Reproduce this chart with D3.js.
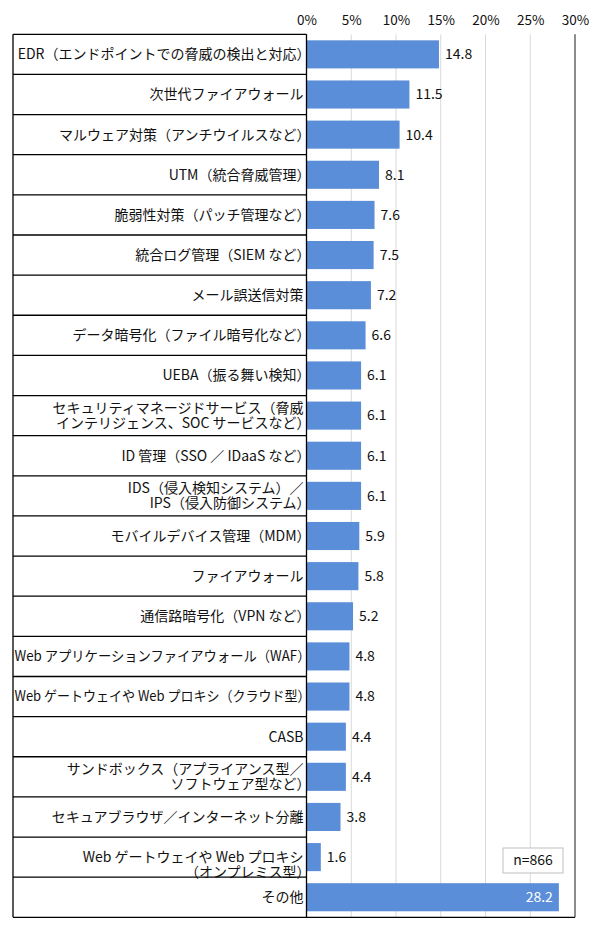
<!DOCTYPE html>
<html><head><meta charset="utf-8">
<script src="https://cdn.jsdelivr.net/npm/d3@7/dist/d3.min.js"></script>
<style>
html,body{margin:0;padding:0;background:#fff;}
svg{display:block;font-family:"Noto Sans CJK JP","Noto Sans",sans-serif;}
</style></head>
<body>
<svg id="chart" width="590" height="934"></svg>
<script>
// ---- data ----
const categories = [
  "EDR（エンドポイントでの脅威の検出と対応）",
  "次世代ファイアウォール",
  "マルウェア対策（アンチウイルスなど）",
  "UTM（統合脅威管理）",
  "脆弱性対策（パッチ管理など）",
  "統合ログ管理（SIEM など）",
  "メール誤送信対策",
  "データ暗号化（ファイル暗号化など）",
  "UEBA（振る舞い検知）",
  "セキュリティマネージドサービス（脅威\nインテリジェンス、SOC サービスなど）",
  "ID 管理（SSO ／ IDaaS など）",
  "IDS（侵入検知システム）／\nIPS（侵入防御システム）",
  "モバイルデバイス管理（MDM）",
  "ファイアウォール",
  "通信路暗号化（VPN など）",
  "Web アプリケーションファイアウォール（WAF）",
  "Web ゲートウェイや Web プロキシ（クラウド型）",
  "CASB",
  "サンドボックス（アプライアンス型／\nソフトウェア型など）",
  "セキュアブラウザ／インターネット分離",
  "Web ゲートウェイや Web プロキシ\n（オンプレミス型）",
  "その他"
];
const values = [14.8, 11.5, 10.4, 8.1, 7.6, 7.5, 7.2, 6.6, 6.1, 6.1, 6.1, 6.1, 5.9, 5.8, 5.2, 4.8, 4.8, 4.4, 4.4, 3.8, 1.6, 28.2];
const tickValues = [0, 5, 10, 15, 20, 25, 30];
const sampleNote = "n=866";

(function () {
// ---- layout ----
const leftX = 13, plotLeft = 306.5, plotRight = 575;
const topY = 34.3, bottomY = 917.3;
const barColor = "#5b8ed9";
const labelRight = plotLeft - 3;
const parenTrail = 7;          // blank right side of a full-width close paren
const maxLabelW = 289;

const svg = d3.select("#chart");
const data = categories.map((c, i) => ({c, v: values[i], i}));

const x = d3.scaleLinear().domain([0, 30]).range([plotLeft, plotRight]);
const y = d3.scaleBand().domain(d3.range(categories.length))
  .range([topY, bottomY]).paddingInner(0.3).paddingOuter(0.15);
const step = y.step();
const rowTop = i => y(i) - step * 0.15;

// gridlines
svg.append("g").selectAll("line").data(tickValues.filter(t => t > 0 && t < 30)).join("line")
  .attr("x1", d => x(d)).attr("x2", d => x(d))
  .attr("y1", topY).attr("y2", bottomY)
  .attr("stroke", "#d9d9d9").attr("stroke-width", 1);

// right border (gray)
svg.append("line").attr("x1", x(30)).attr("x2", x(30)).attr("y1", topY).attr("y2", bottomY)
  .attr("stroke", "#8c8c8c").attr("stroke-width", 2);

// top axis
const axis = d3.axisTop(x).tickValues(tickValues).tickFormat(d => d + "%").tickSize(0).tickPadding(0);
const ag = svg.append("g").attr("transform", "translate(0,25)").call(axis);
ag.select(".domain").remove();
ag.selectAll("text").attr("font-size", 13.5).attr("fill", "#111")
  .style("font-family", '"Noto Sans CJK JP",sans-serif');

// bars
svg.append("g").selectAll("rect").data(data).join("rect")
  .attr("x", x(0)).attr("y", d => y(d.i))
  .attr("width", d => x(d.v) - x(0)).attr("height", y.bandwidth())
  .attr("fill", barColor);

// value labels
const lastIdx = categories.length - 1;
svg.append("g").selectAll("text").data(data).join("text")
  .attr("x", d => d.i === lastIdx ? x(d.v) - 6 : x(d.v) + 6)
  .attr("y", d => y(d.i) + y.bandwidth() / 2)
  .attr("dy", "0.35em")
  .attr("text-anchor", d => d.i === lastIdx ? "end" : "start")
  .attr("font-size", 14)
  .attr("fill", d => d.i === lastIdx ? "#fff" : "#111")
  .text(d => d.v.toFixed(1));

// table lines
const tg = svg.append("g").attr("stroke", "#000").attr("stroke-width", 1.3);
tg.selectAll("line.row").data(d3.range(categories.length)).join("line")
  .attr("class", "row")
  .attr("x1", leftX).attr("x2", plotLeft)
  .attr("y1", d => rowTop(d)).attr("y2", d => rowTop(d));
tg.append("line").attr("x1", leftX).attr("x2", plotRight).attr("y1", bottomY).attr("y2", bottomY);
tg.append("line").attr("x1", leftX).attr("x2", leftX).attr("y1", topY).attr("y2", bottomY);
tg.append("line").attr("x1", plotLeft).attr("x2", plotLeft).attr("y1", topY).attr("y2", bottomY);

// category labels
const lg = svg.append("g");
data.forEach(d => {
  const lines = d.c.split("\n");
  const cy = rowTop(d.i) + step / 2;
  const lh = 15;
  // the on-premise label keeps its first line centred, like the original
  const startY = (d.i === 20) ? cy : cy - (lines.length - 1) * lh / 2;
  lines.forEach((ln, k) => {
    const trail = /[）]$/.test(ln) ? parenTrail : 0;
    const t = lg.append("text").attr("text-anchor", "end").attr("font-size", 14).attr("fill", "#111")
      .attr("x", labelRight + trail).attr("y", startY + k * lh).attr("dy", "0.35em").text(ln);
    const w = t.node().getComputedTextLength();
    if (w > maxLabelW + trail) t.attr("textLength", maxLabelW + trail).attr("lengthAdjust", "spacingAndGlyphs");
  });
});

// n note box
const ng = svg.append("g");
ng.append("rect").attr("x", 503).attr("y", 848).attr("width", 60).attr("height", 25)
  .attr("fill", "#fff").attr("stroke", "#bfbfbf").attr("stroke-width", 1);
ng.append("text").attr("x", 533).attr("y", 860.5).attr("dy", "0.35em").attr("text-anchor", "middle")
  .attr("font-size", 14).attr("fill", "#111").text(sampleNote);
})();
</script>
</body></html>
